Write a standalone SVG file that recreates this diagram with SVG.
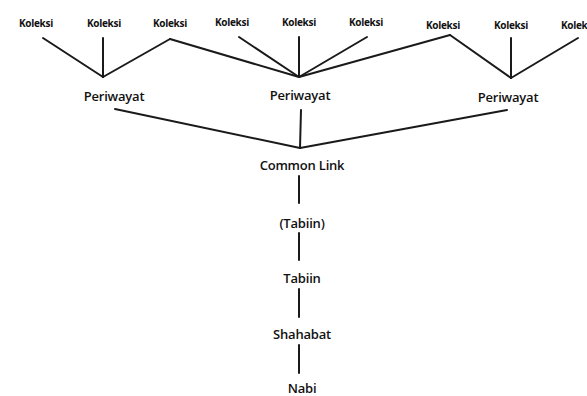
<svg xmlns="http://www.w3.org/2000/svg" width="587" height="396" viewBox="0 0 587 396">
<style>
text{font-family:"Open Sans","Noto Sans",sans-serif;fill:#111;text-anchor:middle;dominant-baseline:central}
.k{font-size:10px;font-weight:700;letter-spacing:-0.3px}
.n{font-size:13px;font-weight:600;letter-spacing:-0.2px}
.c line,.c polyline{stroke:#1a1a1a;stroke-width:2;fill:none;stroke-linecap:round;stroke-linejoin:round}
</style>
<rect width="587" height="396" fill="#fff"/>
<g class="c" id="connectors">
<line x1="43" y1="38" x2="103" y2="77"/>
<line x1="103" y1="38" x2="103" y2="77"/>
<line x1="103" y1="77" x2="170" y2="39"/>
<line x1="170" y1="39" x2="299" y2="77"/>
<line x1="239" y1="37" x2="299" y2="77"/>
<line x1="299" y1="37" x2="299" y2="77"/>
<line x1="367" y1="37" x2="299" y2="77"/>
<line x1="450" y1="35" x2="299" y2="77"/>
<line x1="450" y1="35" x2="511" y2="78"/>
<line x1="511" y1="38" x2="511" y2="78"/>
<line x1="578" y1="38" x2="511" y2="78"/>
<line x1="115" y1="109" x2="300" y2="148"/>
<line x1="301" y1="110" x2="300" y2="148"/>
<line x1="507" y1="110" x2="300" y2="148"/>
<line x1="299" y1="176" x2="299" y2="203"/>
<line x1="299" y1="233" x2="299" y2="260"/>
<line x1="299" y1="289" x2="299" y2="317"/>
<line x1="299" y1="345" x2="299" y2="373"/>
</g>
<g id="koleksi1"><text class="k" x="36" y="23">Koleksi</text></g>
<g id="koleksi2"><text class="k" x="104" y="23">Koleksi</text></g>
<g id="koleksi3"><text class="k" x="170" y="23">Koleksi</text></g>
<g id="koleksi4"><text class="k" x="232" y="22">Koleksi</text></g>
<g id="koleksi5"><text class="k" x="299" y="22">Koleksi</text></g>
<g id="koleksi6"><text class="k" x="366" y="22">Koleksi</text></g>
<g id="koleksi7"><text class="k" x="443" y="25">Koleksi</text></g>
<g id="koleksi8"><text class="k" x="511" y="25">Koleksi</text></g>
<g id="koleksi9"><text class="k" x="578" y="25">Koleksi</text></g>
<g id="periwayat1"><text class="n" x="114" y="96">Periwayat</text></g>
<g id="periwayat2"><text class="n" x="300" y="95">Periwayat</text></g>
<g id="periwayat3"><text class="n" x="508" y="97">Periwayat</text></g>
<g id="commonlink"><text class="n" x="302" y="165">Common Link</text></g>
<g id="tabiin1"><text class="n" x="302" y="223">(Tabiin)</text></g>
<g id="tabiin2"><text class="n" x="302" y="278">Tabiin</text></g>
<g id="shahabat"><text class="n" x="302" y="334">Shahabat</text></g>
<g id="nabi"><text class="n" x="302" y="388">Nabi</text></g>
</svg>
